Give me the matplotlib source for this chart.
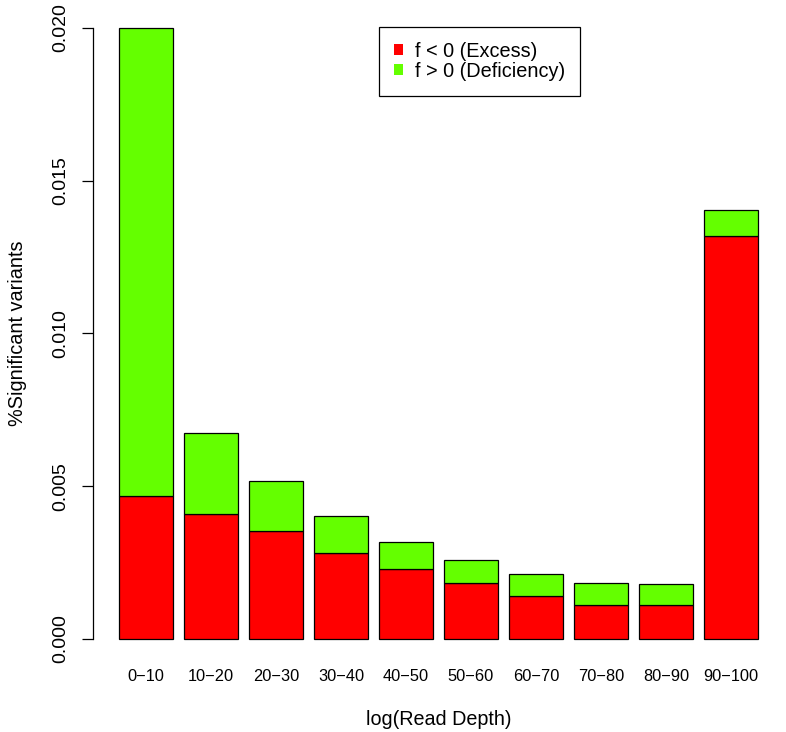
import matplotlib
matplotlib.use("Agg")
import matplotlib.pyplot as plt
from matplotlib.patches import Patch
import numpy as np

plt.rcParams['font.family'] = ['Liberation Sans', 'DejaVu Sans']

# read depth bins and stacked values (fraction of significant variants)
bins = ["0\u221210", "10\u221220", "20\u221230", "30\u221240", "40\u221250",
        "50\u221260", "60\u221270", "70\u221280", "80\u221290", "90\u2212100"]
excess = [0.00468, 0.00410, 0.00352, 0.00283, 0.00228,
          0.00184, 0.00141, 0.00113, 0.00112, 0.01320]
total = [0.0200, 0.00675, 0.00516, 0.00403, 0.00317,
         0.00259, 0.00213, 0.00182, 0.00179, 0.01405]
deficiency = [t - e for t, e in zip(total, excess)]

red = "#FF0000"
green = "#64FF00"

fig = plt.figure(figsize=(7.86, 7.32), dpi=100)
ax = fig.add_axes([93.4 / 786, 1 - 663.5 / 732, (783.6 - 93.4) / 786, (663.5 - 3.2) / 732])

# R style barplot positions: width 1, space 0.2
x = 0.7 + 1.2 * np.arange(len(bins))
ax.bar(x, excess, width=1.0, color=red, edgecolor="black", linewidth=0.9)
ax.bar(x, deficiency, width=1.0, bottom=excess, color=green, edgecolor="black", linewidth=0.9)

ax.set_xlim(-0.272, 12.472)
ax.set_ylim(-0.0008, 0.0208)

for s in ["top", "right", "bottom"]:
    ax.spines[s].set_visible(False)
ax.spines["left"].set_bounds(0, 0.020)
ax.spines["left"].set_linewidth(0.9)

ax.set_yticks([0.000, 0.005, 0.010, 0.015, 0.020])
ax.set_yticklabels(["0.000", "0.005", "0.010", "0.015", "0.020"], rotation=90, va="center")
ax.tick_params(axis="y", length=8, width=0.9, labelsize=14, pad=9.5)
ax.set_xticks(x)
ax.set_xticklabels(bins)
ax.tick_params(axis="x", length=0, labelsize=11.8, pad=4)

ax.set_ylabel("%Significant variants", fontsize=14.3, labelpad=18)
ax.set_xlabel("log(Read Depth)", fontsize=14.2, labelpad=19)

handles = [Patch(facecolor=red, edgecolor="none", label="f < 0 (Excess)"),
           Patch(facecolor=green, edgecolor="none", label="f > 0 (Deficiency)")]
leg = ax.legend(handles=handles, loc="upper left",
                bbox_to_anchor=(379 / 786, 1 - 27 / 732), bbox_transform=fig.transFigure,
                fontsize=14.3, fancybox=False, framealpha=1, edgecolor="black",
                handlelength=0.45, handleheight=0.45, handletextpad=0.6,
                borderpad=0.75, borderaxespad=0, labelspacing=0.05)
leg.get_frame().set_linewidth(0.9)

fig.savefig("out.png", dpi=100)
